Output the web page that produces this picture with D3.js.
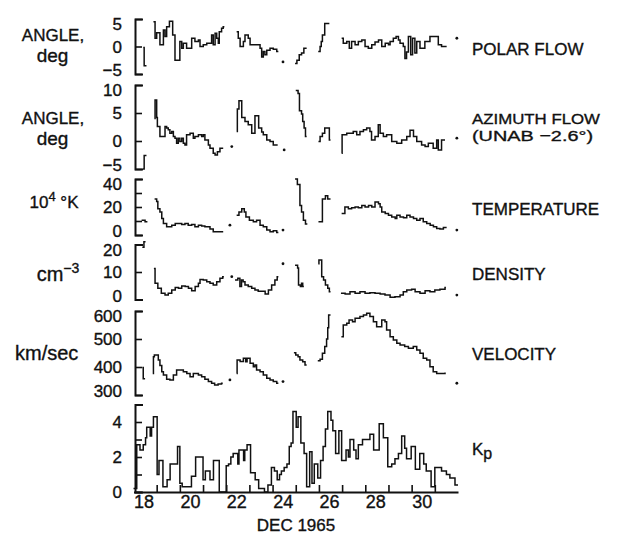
<!DOCTYPE html>
<html>
<head>
<meta charset="utf-8">
<script src="https://cdn.jsdelivr.net/npm/d3@7"></script>
<style>
  body { margin: 0; background: #fff; }
  text { font-family: "Liberation Sans", Arial, sans-serif; fill: #111; stroke: #111; stroke-width: 0.35px; }
</style>
</head>
<body>
<div id="chart"></div>
<script>
// time axis, day of Dec 1965 (day d spans d .. d+1)
var dayDomain = [18, 32];
var dayTicks = [19, 20, 21, 22, 23, 24, 25, 26, 27, 28, 29, 30, 31];
var dayLabels = [18, 20, 22, 24, 26, 28, 30];

// each series: [day, value] steps, null = gap in the record
var polarFlow = [
  [18.42, -0.2], [18.46, -3.5], [18.56, -3.5], null,
  [18.86, 4.5], [18.93, 1.5], [19.0, 2.5], [19.14, 0.3], [19.29, 3.0], [19.36, 1.8], [19.43, 3.6], [19.55, 4.6],
  [19.69, 2.1], [19.79, -2.5], [20.0, 0.9], [20.08, -0.3], [20.15, 0.6], [20.29, -0.3], [20.51, 1.5], [20.65, 0.9],
  [20.8, 1.2], [20.87, 0], [21.01, 0.3], [21.16, 0.6], [21.37, 2.1], [21.44, 0.3], [21.52, 2.4], [21.59, 1.5],
  [21.66, 0.6], [21.7, 2.7], [21.8, 3.3], [21.87, 3.6], [21.92, 3.6], null,
  [22.45, 2.7], [22.52, 1.5], [22.6, 0], [22.74, 0.9], [22.81, 2.1], [22.95, 1.5], [23.03, 0.3], [23.46, -0.3],
  [23.53, -1.9], [23.6, -0.9], [23.67, -1.5], [23.75, -0.7], [23.89, -0.3], [24.03, -0.5], [24.18, -0.9], [24.25, -0.9], null,
  [24.45, -2.8], null,
  [24.97, -3.1], [25.05, -2.5], [25.15, -1.5], [25.25, -1.2], [25.35, -0.3], [25.47, -0.3], null,
  [25.97, -0.9], [26.05, 0], [26.1, 0.9], [26.15, 2.1], [26.25, 4.2], [26.45, 4.2], null,
  [26.98, 1.5], [27.05, 0.6], [27.2, 0.9], [27.31, -0.3], [27.41, 0.9], [27.56, 0.3], [27.7, 0.9], [27.85, 1.2],
  [27.99, 0], [28.13, -0.3], [28.28, 0.3], [28.42, 0.8], [28.57, 1.2], [28.71, 0], [28.86, 0.6], [29.0, 0.3],
  [29.07, 0.9], [29.21, 1.5], [29.33, 1.8], [29.43, 1.2], [29.5, 0.6], [29.64, 0], [29.71, -2.2], [29.78, -1.0],
  [29.86, 1.8], [29.96, -1.5], [30.04, 1.5], [30.14, -1.2], [30.22, 0.9], [30.36, -0.3], [30.57, 0.9], [30.79, 1.8],
  [31.0, 1.8], [31.15, 0.3], [31.29, 0], [31.51, 0], null,
  [31.95, 1.5]
];

var azimuthFlow = [
  [18.4, -5], [18.46, -2.6], [18.56, -2.6], null,
  [18.9, 4.0], [18.93, 7.3], [19.0, 4.2], [19.03, 2.6], [19.14, 0.8], [19.36, 2.6], [19.43, 2.3], [19.5, 2.0],
  [19.57, 1.4], [19.65, 1.7], [19.72, 0.8], [19.79, 0.5], [19.86, -0.4], [19.93, 0.5], [20.0, -0.1], [20.08, 0.5],
  [20.15, -0.4], [20.22, -0.7], [20.29, 1.1], [20.44, 1.4], [20.58, 0.5], [20.65, 0.8], [20.8, 1.1], [20.94, 0.8],
  [21.01, 1.1], [21.08, 0.2], [21.23, -0.7], [21.3, -1.3], [21.44, -2.2], [21.52, -2.5], [21.62, -1.9], [21.73, -1.3],
  [21.87, -1.3], null,
  [22.24, -1.0], null,
  [22.45, 1.7], [22.48, 5.7], [22.55, 7.2], [22.67, 4.2], [22.81, 3.5], [22.95, 2.9], [23.1, 1.4], [23.24, 4.5],
  [23.4, 2.3], [23.53, 1.6], [23.6, 1.1], [23.75, 0.2], [23.89, -0.1], [24.03, -0.7], [24.22, -0.7], null,
  [24.5, -1.6], null,
  [25.0, 9.0], [25.1, 8.5], [25.16, 5.4], [25.25, 4.8], [25.3, 3.5], [25.36, 2.3], [25.42, 0.8], [25.47, 0.8], null,
  [25.98, -0.1], [26.05, 0.8], [26.15, 1.4], [26.25, 2.3], [26.38, 2.3], [26.45, 0.2], [26.5, 0.2], null,
  [26.98, -2.2], [27.0, 1.1], [27.2, 1.4], [27.48, 1.7], [27.63, 1.1], [27.77, 1.7], [27.92, 2.0], [28.06, 2.3],
  [28.2, 1.7], [28.27, 0.2], [28.42, 0.8], [28.56, 2.9], [28.64, 1.4], [28.78, 0.8], [28.92, 1.1], [29.14, -0.1],
  [29.36, -0.4], [29.57, 0.2], [29.79, 0.8], [29.93, 1.9], [30.08, 0.8], [30.22, -0.1], [30.43, -0.7], [30.58, -1.0],
  [30.72, -0.4], [30.93, -1.3], [31.08, 0.2], [31.15, -1.6], [31.29, 0.2], [31.44, 0.2], null,
  [31.95, 0.5]
];

var temperature = [
  [18.35, 10.5], [18.5, 9.5], [18.6, 9.5], null,
  [18.91, 25.8], [19.0, 24], [19.05, 18.8], [19.14, 16.4], [19.22, 11.8], [19.29, 8.2], [19.43, 5.9], [19.65, 7],
  [19.8, 8.2], [20.08, 7.5], [20.22, 8.2], [20.36, 7], [20.51, 7.5], [20.65, 5.9], [20.8, 7], [20.94, 6.4],
  [21.08, 5.9], [21.3, 4.2], [21.44, 2.3], [21.87, 2.3], null,
  [22.16, 7], null,
  [22.45, 14.1], [22.55, 16.4], [22.67, 18.8], [22.78, 16.4], [22.85, 12.9], [23.0, 10.6], [23.17, 9.4], [23.31, 10.6],
  [23.46, 7], [23.6, 5.9], [23.75, 3.5], [23.89, 2.3], [24.03, 3], [24.18, 1.8], [24.25, 1.8], null,
  [24.45, 3.5], null,
  [24.97, 40], [25.07, 36], [25.18, 21], [25.25, 16.4], [25.33, 10.6], [25.42, 7.8], [25.5, 7.8], null,
  [25.98, 9.4], [26.15, 25.8], [26.28, 28.1], [26.38, 25.8], [26.5, 25.8], null,
  [26.98, 15.3], [27.12, 20], [27.27, 18.8], [27.41, 19.4], [27.56, 20], [27.7, 19.4], [27.85, 21.1], [27.99, 20],
  [28.14, 21.1], [28.28, 20], [28.42, 23.5], [28.57, 22.3], [28.64, 20], [28.71, 16.4], [28.86, 15.3], [29.0, 14.1],
  [29.14, 12.9], [29.29, 11.8], [29.36, 14.1], [29.5, 12.9], [29.65, 12.3], [29.79, 14.1], [29.93, 12.9], [30.08, 11.8],
  [30.22, 10.6], [30.36, 11.8], [30.5, 9.4], [30.65, 8.2], [30.8, 7], [30.94, 5.9], [31.08, 4.7], [31.22, 4.2],
  [31.37, 5.3], [31.51, 5.3], null,
  [31.95, 3.5]
];

var density = [
  [18.38, 19], [18.45, 21], [18.52, 21], null,
  [18.88, 11.3], [18.93, 5.9], [19.05, 4.1], [19.2, 2.3], [19.36, 1.6], [19.5, 2.3], [19.65, 3.5], [19.8, 4.4],
  [19.94, 4.1], [20.08, 4.9], [20.23, 4.7], [20.37, 4.1], [20.51, 3.2], [20.66, 4.7], [20.8, 5.9], [20.87, 7.3],
  [21.01, 7.1], [21.16, 6.5], [21.3, 5.9], [21.44, 5.3], [21.59, 6.5], [21.73, 7.7], [21.85, 8.3], [21.9, 8.3], null,
  [22.24, 8.3], null,
  [22.38, 7.1], [22.5, 7.7], [22.59, 4.7], [22.66, 7.1], [22.73, 6.5], [22.81, 5.3], [22.95, 4.7], [23.1, 4.1],
  [23.24, 3.5], [23.38, 3.0], [23.53, 3.0], [23.68, 2.0], [23.82, 3.5], [23.96, 5.3], [24.1, 7.1], [24.2, 8.3],
  [24.25, 8.3], null,
  [24.45, 13], null,
  [24.97, 12.5], [25.08, 11.5], [25.12, 5.3], [25.2, 4.7], [25.25, 5.9], [25.3, 4.7], [25.35, 4.7], null,
  [25.97, 13], [26.0, 14.4], [26.12, 8.3], [26.2, 7.1], [26.28, 5.3], [26.38, 4.1], [26.45, 2.8], [26.5, 2.8], null,
  [26.95, 2.3], [27.13, 2.0], [27.34, 2.8], [27.56, 2.3], [27.77, 2.8], [27.99, 2.3], [28.2, 2.5], [28.42, 2.3],
  [28.64, 2.0], [28.85, 1.6], [29.07, 0.8], [29.28, 1.0], [29.5, 1.6], [29.64, 2.8], [29.79, 3.5], [30.0, 3.7],
  [30.15, 2.8], [30.36, 2.3], [30.58, 3.2], [30.79, 2.8], [31.0, 3.5], [31.22, 3.7], [31.44, 4.4], [31.48, 4.4], null,
  [31.95, 1.6]
];

var velocity = [
  [18.38, 398], [18.42, 358], [18.5, 358], null,
  [18.83, 377], [18.86, 437], [18.9, 443], [19.07, 425], [19.14, 405], [19.22, 383], [19.29, 371], [19.43, 356],
  [19.57, 354], [19.72, 371], [19.86, 389], [20.15, 383], [20.3, 377], [20.44, 365], [20.58, 377], [20.8, 371],
  [20.94, 365], [21.08, 356], [21.23, 348], [21.37, 342], [21.5, 336], [21.65, 339], [21.8, 342], [21.85, 342], null,
  [22.16, 354], null,
  [22.45, 377], [22.47, 425], [22.6, 420], [22.74, 431], [22.84, 419], [22.9, 431], [23.03, 413], [23.17, 401],
  [23.24, 407], [23.31, 389], [23.46, 383], [23.6, 371], [23.75, 360], [23.89, 354], [24.03, 348], [24.18, 342],
  [24.25, 342], null,
  [24.45, 348], null,
  [24.92, 451], [25.0, 443], [25.1, 437], [25.18, 425], [25.3, 419], [25.4, 407], [25.47, 407], null,
  [25.95, 422], [26.05, 428], [26.15, 449], [26.25, 473], [26.33, 500], [26.38, 540], [26.42, 586], [26.5, 586], null,
  [26.97, 508], [27.05, 550], [27.2, 556], [27.3, 568], [27.45, 562], [27.56, 574], [27.77, 580], [27.92, 586],
  [28.06, 592], [28.2, 580], [28.35, 562], [28.49, 544], [28.62, 544], [28.71, 568], [28.85, 562], [28.92, 532],
  [29.07, 508], [29.21, 496], [29.36, 485], [29.5, 479], [29.7, 473], [29.86, 467], [30.07, 473], [30.22, 461],
  [30.36, 449], [30.5, 431], [30.65, 425], [30.79, 401], [30.93, 383], [31.08, 377], [31.25, 377], [31.44, 380], null,
  [31.95, 342]
];

var kp = [
  [18.0, 0.2], [18.14, 2.7], [18.28, 2.4], [18.42, 2.7], [18.52, 3.1], [18.57, 3.7], [18.72, 3.2], [18.78, 3.7],
  [18.86, 4.3], [19.02, 1.0], [19.1, 1.8], [19.27, 0.3], [19.45, 0.7], [19.58, 1.6], [19.9, 2.6], [20.0, 0.5],
  [20.1, 0.3], [20.5, 0.9], [20.68, 2.0], [21.0, 0.7], [21.1, 1.2], [21.3, 0.7], [21.45, 1.8], [21.7, 0],
  [22.0, 1.5], [22.1, 1.6], [22.2, 2.0], [22.3, 2.2], [22.5, 1.6], [22.55, 2.4], [22.75, 1.8], [22.8, 2.4],
  [22.9, 2.7], [23.05, 1.1], [23.25, 0.7], [23.4, 0.2], [23.65, 0], [23.8, 0.4], [23.95, 1.4], [24.08, 1.2],
  [24.2, 0.7], [24.3, 1.0], [24.38, 1.2], [24.5, 1.4], [24.62, 1.6], [24.72, 2.6], [24.8, 2.8], [24.88, 4.6],
  [25.02, 3.7], [25.1, 4.3], [25.22, 2.8], [25.36, 2.2], [25.47, 0.3], [25.6, 2.3], [25.7, 0.5], [25.8, 1.6],
  [25.95, 0.8], [26.07, 1.8], [26.18, 2.6], [26.28, 3.6], [26.38, 4.6], [26.52, 4.1], [26.6, 3.5], [26.72, 2.2],
  [26.86, 3.5], [26.98, 1.8], [27.17, 2.4], [27.27, 2.0], [27.34, 3.0], [27.5, 2.4], [27.6, 1.9], [27.7, 2.7],
  [27.88, 3.0], [28.2, 3.3], [28.36, 2.4], [28.6, 3.9], [28.78, 3.1], [28.97, 1.45], [29.14, 1.6], [29.28, 1.9],
  [29.43, 2.2], [29.57, 3.2], [29.7, 2.5], [29.78, 1.9], [29.98, 2.6], [30.16, 1.3], [30.35, 2.2], [30.52, 1.6],
  [30.63, 1.2], [30.84, 0.3], [31.0, 1.4], [31.29, 1.2], [31.5, 1.0], [31.65, 0.8], [31.87, 0.4], [32.0, 0.4]
];

// y ticks and labelled ticks per panel
var polarTicks = [-5, 0, 5], polarLabels = [-5, 0, 5];
var azimuthTicks = [-5, 0, 5, 10], azimuthLabels = [-5, 0, 5, 10];
var tempTicks = [0, 10, 20, 30, 40], tempLabels = [0, 20, 40];
var densityTicks = [0, 10, 20], densityLabels = [0, 10, 20];
var velocityTicks = [300, 400, 500, 600], velocityLabels = [300, 400, 500, 600];
var kpTicks = [0, 1, 2, 3, 4, 5], kpLabels = [0, 2, 4];

var rightTitles = [["POLAR FLOW"], ["AZIMUTH FLOW", "(UNAB \u22122.6\u00b0)"], ["TEMPERATURE"], ["DENSITY"], ["VELOCITY"], ["Kp"]];
var xTitle = "DEC 1965";

////////////////////////////////////////////////////////////////////////////////
var width = 619, height = 535;
var axisX = 135;

var svg = d3.select("#chart").append("svg")
  .attr("width", width)
  .attr("height", height);

var x = d3.scaleLinear().domain(dayDomain).range([133.5, 458]);

var panels = [
  { data: polarFlow, domain: [-5, 5], px: [74, 19], ticks: polarTicks, labels: polarLabels, titleY: [55], titleSize: 17 },
  { data: azimuthFlow, domain: [-5, 10], px: [169, 85], ticks: azimuthTicks, labels: azimuthLabels, titleY: [124, 141], titleSize: 15.5, titleLen: [128, 121] },
  { data: temperature, domain: [0, 40], px: [235, 179], ticks: tempTicks, labels: tempLabels, titleY: [215], titleSize: 17 },
  { data: density, domain: [0, 20], px: [299.5, 244.5], ticks: densityTicks, labels: densityLabels, titleY: [280], titleSize: 17 },
  { data: velocity, domain: [300, 600], px: [395, 311], ticks: velocityTicks, labels: velocityLabels, titleY: [360], titleSize: 17 },
  { data: kp, domain: [0, 5], px: [492, 404.5], ticks: kpTicks, labels: kpLabels, titleY: [455], titleSize: 17 }
];

var fmt = d3.format("d");

panels.forEach(function (p, idx) {
  var y = d3.scaleLinear().domain(p.domain).range(p.px);
  var last = idx == panels.length - 1;

  // bracket style axis, ticks pointing into the plot
  var g = svg.append("g").attr("transform", "translate(" + axisX + ",0)")
    .call(d3.axisRight(y).tickValues(p.ticks).tickSizeInner(7).tickSizeOuter(8).tickFormat(""));
  g.select(".domain").attr("stroke", "#111").attr("stroke-width", 2).attr("fill", "none");
  g.selectAll(".tick line").attr("stroke", "#111").attr("stroke-width", 1.6);

  // tick labels, squeezed in at the ends like the original lettering
  svg.append("g").selectAll("text")
    .data(p.labels)
    .enter().append("text")
    .attr("x", 122)
    .attr("y", function (d) {
      var off = 0;
      if (d == p.domain[1]) off = 5;
      if (d == p.domain[0] && !last) off = -4;
      return y(d) + off;
    })
    .attr("dy", "0.36em")
    .attr("text-anchor", "end")
    .style("font-size", "17px")
    .text(function (d) { return fmt(d); });

  var line = d3.line()
    .defined(function (d) { return d != null; })
    .x(function (d) { return x(d[0]); })
    .y(function (d) { return y(d[1]); })
    .curve(d3.curveStepAfter);

  svg.append("path")
    .datum(p.data)
    .attr("fill", "none")
    .attr("stroke", "#111")
    .attr("stroke-width", 1.5)
    .attr("d", line);

  // isolated samples show as dots
  var lone = p.data.filter(function (d, i) {
    return d != null && (i == 0 || p.data[i - 1] == null) && (i == p.data.length - 1 || p.data[i + 1] == null);
  });
  svg.append("g").selectAll("circle")
    .data(lone)
    .enter().append("circle")
    .attr("cx", function (d) { return x(d[0]); })
    .attr("cy", function (d) { return y(d[1]); })
    .attr("r", 1.4)
    .attr("fill", "#111");

  // right-hand titles
  rightTitles[idx].forEach(function (t, k) {
    var tx = svg.append("text")
      .attr("x", 472)
      .attr("y", p.titleY[k])
      .style("font-size", p.titleSize + "px");
    if (p.titleLen) {
      tx.attr("textLength", p.titleLen[k]).attr("lengthAdjust", "spacingAndGlyphs");
    }
    if (t == "Kp") {
      tx.append("tspan").text("K");
      tx.append("tspan").attr("dy", 4).style("font-size", "16px").text("p");
    } else {
      tx.text(t);
    }
  });
});

// time axis along the bottom panel
var xg = svg.append("g").attr("transform", "translate(0,492)")
  .call(d3.axisBottom(x).tickValues(dayTicks).tickSizeInner(-7).tickSizeOuter(0).tickFormat(""));
xg.select(".domain").attr("stroke", "#111").attr("stroke-width", 2);
xg.selectAll(".tick line").attr("stroke", "#111").attr("stroke-width", 1.6);

svg.append("g").selectAll("text")
  .data(dayLabels)
  .enter().append("text")
  .attr("x", function (d) { return x(d + 0.5) - 1; })
  .attr("y", 508)
  .attr("text-anchor", "middle")
  .style("font-size", "18px")
  .text(function (d) { return d; });

svg.append("text")
  .attr("x", 296)
  .attr("y", 531)
  .attr("text-anchor", "middle")
  .style("font-size", "17px")
  .text(xTitle);

// left unit labels
function unitLine(cx, cy, size, txt) {
  return svg.append("text")
    .attr("x", cx).attr("y", cy)
    .attr("text-anchor", "middle")
    .style("font-size", size + "px")
    .text(txt);
}
unitLine(53, 40.5, 17, "ANGLE,");
unitLine(52.5, 62, 19, "deg");
unitLine(53, 123.5, 17, "ANGLE,");
unitLine(52.5, 145, 19, "deg");

var tK = svg.append("text").attr("x", 54).attr("y", 208).attr("text-anchor", "middle").style("font-size", "17px");
tK.append("tspan").text("10");
tK.append("tspan").attr("dy", -7).style("font-size", "13px").text("4");
tK.append("tspan").attr("dy", 7).text(" \u00b0K");

var tC = svg.append("text").attr("x", 58).attr("y", 281).attr("text-anchor", "middle").style("font-size", "20px");
tC.append("tspan").text("cm");
tC.append("tspan").attr("dy", -8).style("font-size", "14px").text("\u22123");

unitLine(46.7, 360, 20, "km/sec");
</script>
</body>
</html>
